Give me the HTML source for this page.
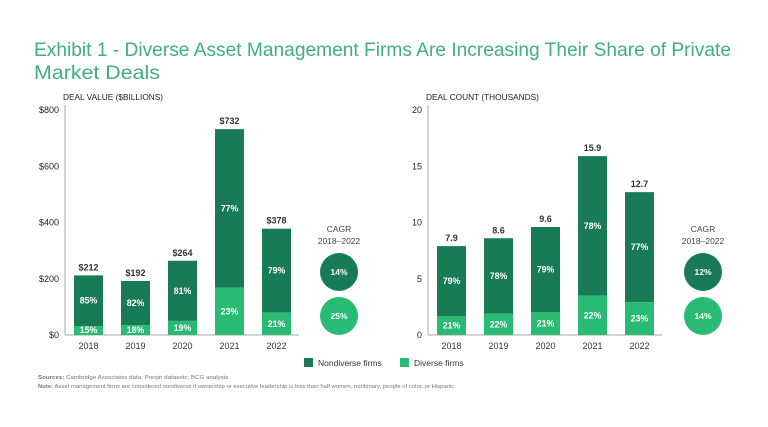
<!DOCTYPE html>
<html><head><meta charset="utf-8"><style>
body{margin:0;background:#fff;}
svg{display:block;font-family:"Liberation Sans",sans-serif;}
</style></head><body>
<svg id="c" width="768" height="427" viewBox="0 0 768 427">
<text x="34" y="56" font-size="19.5" fill="#3fae85" textLength="697" lengthAdjust="spacingAndGlyphs">Exhibit 1 - Diverse Asset Management Firms Are Increasing Their Share of Private</text>
<text x="34" y="79" font-size="19.5" fill="#3fae85" textLength="126" lengthAdjust="spacingAndGlyphs">Market Deals</text>
<g>
<rect x="304" y="358" width="9" height="9" fill="#197a56"/>
<text x="318" y="366" font-size="8.5" fill="#333">Nondiverse firms</text>
<rect x="400" y="358" width="9" height="9" fill="#29ba74"/>
<text x="414" y="366" font-size="8.5" fill="#333">Diverse firms</text>
</g>
<text x="38" y="379" font-size="5.5" fill="#777" textLength="192" lengthAdjust="spacingAndGlyphs"><tspan font-weight="bold">Sources:</tspan> Cambridge Associates data; Preqin datasets; BCG analysis.</text>
<text x="38" y="388" font-size="5.5" fill="#777" textLength="418" lengthAdjust="spacingAndGlyphs"><tspan font-weight="bold">Note:</tspan> Asset management firms are considered nondiverse if ownership or executive leadership is less than half women, nonbinary, people of color, or Hispanic.</text>
</svg>
<script>
const years=["2018","2019","2020","2021","2022"];
const valueTotals=[212,192,264,732,378];
const valueTotalLabels=["$212","$192","$264","$732","$378"];
const valueNondiversePct=[85,82,81,77,79];
const valueDiversePct=[15,18,19,23,21];
const valueTicks=[0,200,400,600,800];
const valueTickLabels=["$0","$200","$400","$600","$800"];
const valueCagr=["14%","25%"];
const countTotals=[7.9,8.6,9.6,15.9,12.7];
const countTotalLabels=["7.9","8.6","9.6","15.9","12.7"];
const countNondiversePct=[79,78,79,78,77];
const countDiversePct=[21,22,21,22,23];
const countTicks=[0,5,10,15,20];
const countTickLabels=["0","5","10","15","20"];
const countCagr=["12%","14%"];
const NS="http://www.w3.org/2000/svg";
const svg=document.getElementById('c');
function mk(tag,attrs,parent,txt){const e=document.createElementNS(NS,tag);for(const k in attrs)e.setAttribute(k,attrs[k]);if(txt!==undefined)e.textContent=txt;parent.appendChild(e);return e;}
function chart(o){
 const g=mk('g',{},svg);
 
 
 const base=335,top=110,y=v=>base-(v/o.max)*(base-top);
 const bx=i=>o.x0+9+i*47;
 const t=mk('text',{x:o.x0-2,y:100,'font-size':8.3,fill:'#222'},g,o.title);
 
 
 const ax=mk('line',{x1:o.x0,y1:top-5,x2:o.x0,y2:base,stroke:'#aaa','stroke-width':1},g);
 
 
 const bl=mk('line',{x1:o.x0,y1:base,x2:o.x0+234,y2:base,stroke:'#aaa','stroke-width':1},g);
 
 
 o.ticks.forEach((v,i)=>{const e=mk('text',{x:o.x0-6,y:y(v)+3,'font-size':9,fill:'#222','text-anchor':'end'},g,o.tickLabels[i]);
  
  });
 years.forEach((yr,i)=>{
  const tot=o.totals[i],h=base-y(tot),dh=h*o.dPct[i]/100,x=bx(i),cx=x+14.5;
  const r1=mk('rect',{x:x,y:y(tot),width:29,height:h-dh,fill:'#197a56'},g);
  
  
  const r2=mk('rect',{x:x,y:base-dh,width:29,height:dh,fill:'#29ba74'},g);
  
  
  const tl=mk('text',{x:cx,y:y(tot)-5,'font-size':9,'font-weight':'bold',fill:'#333','text-anchor':'middle'},g,o.totalLabels[i]);
  
  
  const nl=mk('text',{x:cx,y:y(tot)+(h-dh)/2+3,'font-size':8.8,'font-weight':'bold',fill:'#fff','text-anchor':'middle'},g,o.nPct[i]+'%');
  
  
  const dl=mk('text',{x:cx,y:Math.min(base-dh/2+3,base-2),'font-size':8.8,'font-weight':'bold',fill:'#fff','text-anchor':'middle'},g,o.dPct[i]+'%');
  
  
  const xl=mk('text',{x:cx,y:349,'font-size':9,fill:'#333','text-anchor':'middle'},g,yr);
  
  
 });
 const c1=mk('text',{x:o.cx,y:232,'font-size':8.5,fill:'#444','text-anchor':'middle'},g,'CAGR');
 
 
 const c2=mk('text',{x:o.cx,y:244,'font-size':8.5,fill:'#444','text-anchor':'middle'},g,'2018–2022');
 
 
 [[272,'#197a56'],[316,'#29ba74']].forEach((p,k)=>{
  const ci=mk('circle',{cx:o.cx,cy:p[0],r:19,fill:p[1]},g);
  
  
  const ct=mk('text',{x:o.cx,y:p[0]+3,'font-size':8.5,'font-weight':'bold',fill:'#fff','text-anchor':'middle'},g,o.cagr[k]);
  
  
 });
}
chart({name:'deal-value-chart',x0:65,max:800,title:'DEAL VALUE ($BILLIONS)',totals:valueTotals,totalLabels:valueTotalLabels,nPct:valueNondiversePct,dPct:valueDiversePct,ticks:valueTicks,tickLabels:valueTickLabels,cagr:valueCagr,cx:339});
chart({name:'deal-count-chart',x0:428,max:20,title:'DEAL COUNT (THOUSANDS)',totals:countTotals,totalLabels:countTotalLabels,nPct:countNondiversePct,dPct:countDiversePct,ticks:countTicks,tickLabels:countTickLabels,cagr:countCagr,cx:703});
</script>
</body></html>
